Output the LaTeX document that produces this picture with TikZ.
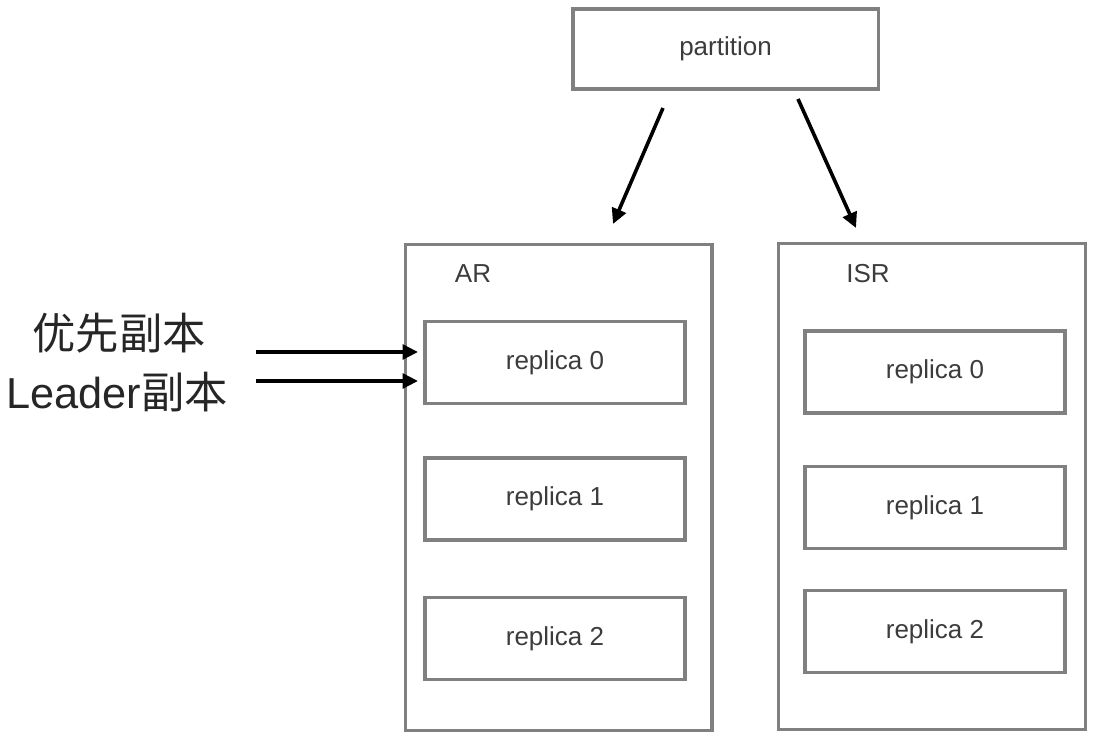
\documentclass[tikz,border=0pt]{standalone}
\usepackage{fontspec}
\setmainfont{Liberation Sans}
\newfontfamily\cjk{Noto Sans CJK SC}
\usetikzlibrary{arrows.meta,positioning}
\definecolor{boxgray}{RGB}{128,128,128}
\definecolor{textgray}{RGB}{60,60,60}
\tikzstyle{box}=[rectangle,draw=boxgray,line width=2.5pt,inner sep=0pt,text=textgray,font=\fontsize{19.5}{22}\selectfont]
\tikzstyle{replica}=[box,minimum width=195pt,minimum height=61.5pt]
\tikzstyle{group}=[box,minimum width=230pt,minimum height=364.5pt]
\tikzstyle{edge}=[draw,line width=2.7pt,-{Triangle[length=11.5pt,width=11pt]}]
\tikzstyle{label}=[text=textgray,font=\fontsize{19.5}{22}\selectfont]
\tikzstyle{bigtext}=[text=black!85,font=\fontsize{32.5}{36}\selectfont]

\begin{document}
\begin{tikzpicture}[x=0.75pt,y=-0.75pt]
\useasboundingbox (0,0) rectangle (1093,737);

% partition
\node[box,minimum width=229pt,minimum height=60pt] (partition) at (725.5,49) {partition};

% AR and ISR
\node[group] (ar) at (558.5,487.5) {};
\node[group] (isr) at (932,486.5) {};
\node[label] (arlabel) at (473,274) {AR};
\node[label] (isrlabel) at (868,274) {ISR};

\foreach \i/\y in {0/362.5,1/499,2/638.5}
    \node[replica] (ar\i) at (555,\y) {replica \i};
\foreach \i/\y in {0/372,1/507.5,2/631.5}
    \node[replica] (isr\i) at (935,\y) {replica \i};

% arrows from partition
\coordinate (p1) at (663,108);
\coordinate (p2) at (798,99);
\coordinate (a1) at (613,224);
\coordinate (a2) at (856,228);
\path[edge] (p1) -- (a1);
\path[edge] (p2) -- (a2);

% left labels
\node[bigtext] (pref) at (119,333) {\cjk 优先副本};
\node[bigtext] (leader) at (117,392) {Leader\cjk 副本};
\coordinate (s1) at (256,352);
\coordinate (s2) at (256,381);
\coordinate (t1) at (418,352);
\coordinate (t2) at (418,381);
\path[edge] (s1) -- (t1);
\path[edge] (s2) -- (t2);

\end{tikzpicture}
\end{document}
